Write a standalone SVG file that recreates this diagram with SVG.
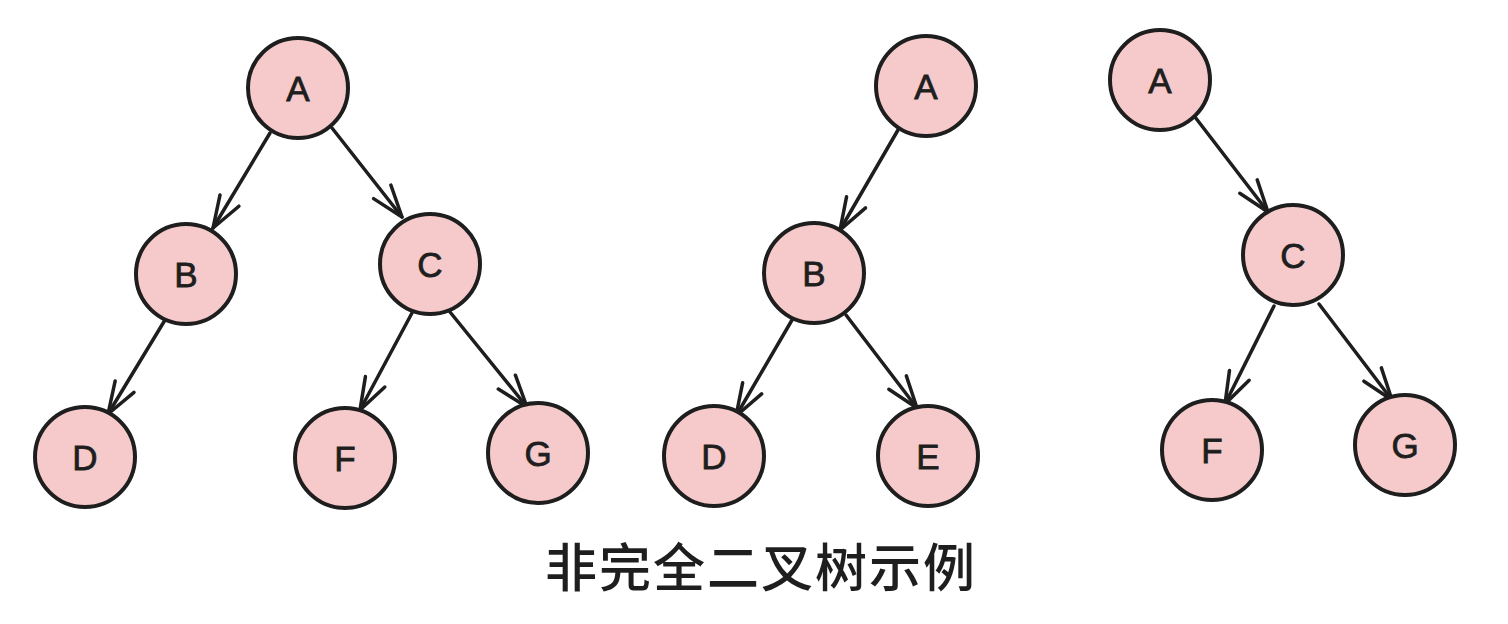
<svg xmlns="http://www.w3.org/2000/svg" width="1508" height="624" viewBox="0 0 1508 624">
  <style>
    .node circle { fill: #f6caca; stroke: #1e1e1e; stroke-width: 4; }
    .node text { font-family: "Liberation Sans", "DejaVu Sans", sans-serif; font-size: 35px; fill: #1e1e1e; stroke: #1e1e1e; stroke-width: 0.8; text-anchor: middle; dominant-baseline: central; }
    .edge { stroke: #1e1e1e; stroke-width: 3.5; fill: none; stroke-linecap: round; marker-end: url(#arrow); }
    .title { font-family: "Noto Sans CJK SC", "Noto Sans", sans-serif; font-size: 52px; font-weight: 500; fill: #1e1e1e; text-anchor: middle; letter-spacing: 2px; }
  </style>
  <defs>
    <marker id="arrow" markerUnits="userSpaceOnUse" orient="auto" markerWidth="40" markerHeight="30" refX="0" refY="0" viewBox="-36 -15 40 30" overflow="visible">
      <path d="M -32 -11 L 0 0 L -32 11" fill="none" stroke="#1e1e1e" stroke-width="3.5" stroke-linecap="round" stroke-linejoin="round"/>
    </marker>
  </defs>
  <rect width="1508" height="624" fill="#ffffff"/>

  <g id="connectors">
    <!-- tree 1 -->
    <line class="edge" x1="270" y1="133" x2="213" y2="228"/>
    <line class="edge" x1="332" y1="128" x2="402" y2="217"/>
    <line class="edge" x1="165" y1="320" x2="108" y2="414"/>
    <line class="edge" x1="412" y1="313" x2="360" y2="410"/>
    <line class="edge" x1="450" y1="312" x2="527" y2="407"/>
    <!-- tree 2 -->
    <line class="edge" x1="898" y1="130" x2="840" y2="230"/>
    <line class="edge" x1="792" y1="320" x2="736" y2="416"/>
    <line class="edge" x1="846" y1="315" x2="917" y2="408"/>
    <!-- tree 3 -->
    <line class="edge" x1="1195" y1="117" x2="1268" y2="212"/>
    <line class="edge" x1="1274" y1="306" x2="1225" y2="404"/>
    <line class="edge" x1="1319" y1="304" x2="1392" y2="400"/>
  </g>

  <!-- tree 1 -->
  <g id="t1-A" class="node"><circle cx="298" cy="88" r="50"/><text x="298" y="88">A</text></g>
  <g id="t1-B" class="node"><circle cx="186" cy="274" r="50"/><text x="186" y="274">B</text></g>
  <g id="t1-C" class="node"><circle cx="430" cy="264" r="50"/><text x="430" y="264">C</text></g>
  <g id="t1-D" class="node"><circle cx="85" cy="457" r="50"/><text x="85" y="457">D</text></g>
  <g id="t1-F" class="node"><circle cx="345" cy="458" r="50"/><text x="345" y="458">F</text></g>
  <g id="t1-G" class="node"><circle cx="538" cy="453" r="50"/><text x="538" y="453">G</text></g>

  <!-- tree 2 -->
  <g id="t2-A" class="node"><circle cx="926" cy="86" r="50"/><text x="926" y="86">A</text></g>
  <g id="t2-B" class="node"><circle cx="814" cy="273" r="50"/><text x="814" y="273">B</text></g>
  <g id="t2-D" class="node"><circle cx="714" cy="456" r="50"/><text x="714" y="456">D</text></g>
  <g id="t2-E" class="node"><circle cx="928" cy="456" r="50"/><text x="928" y="456">E</text></g>

  <!-- tree 3 -->
  <g id="t3-A" class="node"><circle cx="1160" cy="80" r="50"/><text x="1160" y="80">A</text></g>
  <g id="t3-C" class="node"><circle cx="1293" cy="255" r="50"/><text x="1293" y="255">C</text></g>
  <g id="t3-F" class="node"><circle cx="1212" cy="450" r="50"/><text x="1212" y="450">F</text></g>
  <g id="t3-G" class="node"><circle cx="1405" cy="445" r="50"/><text x="1405" y="445">G</text></g>

  <text id="caption" class="title" x="761" y="587">非完全二叉树示例</text>
</svg>
